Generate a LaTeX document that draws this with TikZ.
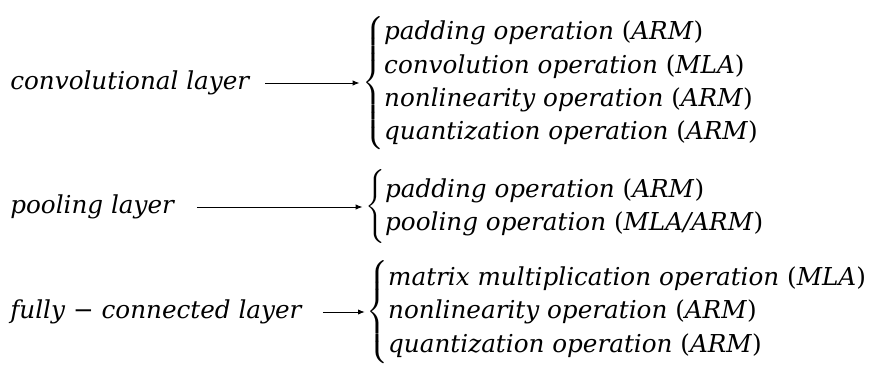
\documentclass[tikz,border=0pt]{standalone}
\usepackage{amsmath, amssymb}
\usepackage{fontspec}
\setmainfont{DejaVu Serif}
\usepackage{tikz}
\usetikzlibrary{arrows.meta}

\begin{document}
\begin{tikzpicture}[x=0.75pt,y=0.75pt,yscale=-1,xscale=1,
  every node/.style={font=\fontsize{18.5}{20}\selectfont, inner sep=0pt},
  layerarrow/.style={-{Latex[length=5pt,width=4pt]}, line width=0.6pt}]
\path[use as bounding box] (0,0) rectangle (892,371);

% Layer names
\node (conv) [anchor=west] at (10,83) {\textit{convolutional layer}};
\node (pool) [anchor=west] at (10,207) {\textit{pooling layer}};
\node (fully) [anchor=west] at (10,312) {\textit{fully} − \textit{connected layer}};

% Operation lists
\node (convops) [anchor=west] at (362,83) {\renewcommand{\arraystretch}{1.25}$\left\{\begin{tabular}{@{}l@{}}
  \textit{padding operation} (\textit{ARM})\\
  \textit{convolution operation} (\textit{MLA})\\
  \textit{nonlinearity operation} (\textit{ARM})\\
  \textit{quantization operation} (\textit{ARM})
\end{tabular}\right.$};
\node (poolops) [anchor=west] at (365,207) {\renewcommand{\arraystretch}{1.25}$\left\{\begin{tabular}{@{}l@{}}
  \textit{padding operation} (\textit{ARM})\\
  \textit{pooling operation} (\textit{MLA/ARM})
\end{tabular}\right.$};
\node (fullyops) [anchor=west] at (366,312) {\renewcommand{\arraystretch}{1.25}$\left\{\begin{tabular}{@{}l@{}}
  \textit{matrix multiplication operation} (\textit{MLA})\\
  \textit{nonlinearity operation} (\textit{ARM})\\
  \textit{quantization operation} (\textit{ARM})
\end{tabular}\right.$};

% Arrows
\draw [layerarrow, shorten <=11pt, shorten >=2pt] (conv.east) -- (convops.west);
\draw [layerarrow, shorten <=16pt, shorten >=2pt] (pool.east) -- (poolops.west);
\draw [layerarrow, shorten <=15pt, shorten >=1pt] (fully.east) -- (fullyops.west);

\end{tikzpicture}
\end{document}
